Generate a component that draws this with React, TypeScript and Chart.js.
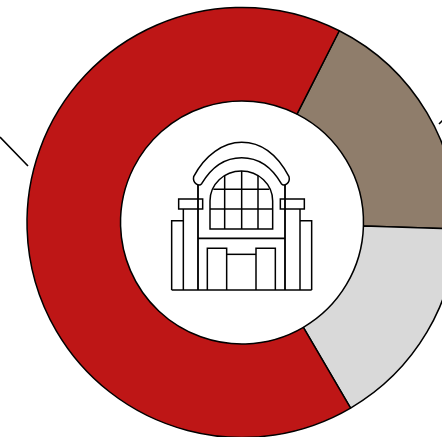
import React, { useEffect, useRef } from "react";
import { Chart, registerables } from "chart.js";

Chart.register(...registerables);

const categories = ["Brown", "Gray", "Red"];
const shares = [18, 16.1, 65.9];
const sliceColors = ["#8f7d6b", "#d9d9d9", "#be1616"];
const startAngle = 26.9;

const iconPlugin = {
  id: "centerIcon",
  afterDraw(chart: any) {
    const c = chart.ctx;
    c.save();
    c.strokeStyle = "#000";
    c.lineCap = "butt";
    // leader lines
    c.lineWidth = 1.6;
    c.beginPath();
    c.moveTo(0, 137);
    c.lineTo(28, 166);
    c.moveTo(439, 124);
    c.lineTo(443, 120);
    c.stroke();
    // icon, in its own drawing units (1 unit = 1/3 px)
    c.translate(160, 135);
    c.scale(1 / 3, 1 / 3);
    c.lineWidth = 4.5;
    const seg = (p: number[]) => {
      c.beginPath();
      c.moveTo(p[0], p[1]);
      for (let i = 2; i < p.length; i += 2) c.lineTo(p[i], p[i + 1]);
      c.stroke();
    };
    seg([35, 465, 455, 465]);
    seg([35, 465, 35, 257, 70, 257]);
    seg([455, 465, 455, 257, 420, 257]);
    seg([70, 465, 70, 222]);
    seg([420, 465, 420, 222]);
    c.strokeRect(56, 192, 72, 30);
    c.strokeRect(361, 192, 72, 30);
    c.lineWidth = 5.5;
    seg([114, 150, 114, 465]);
    seg([375, 150, 375, 465]);
    seg([114, 310, 375, 310]);
    c.lineWidth = 4.5;
    seg([142, 465, 142, 340, 200, 340, 200, 465]);
    seg([288, 465, 288, 340, 346, 340, 346, 465]);
    seg([200, 358, 288, 358]);
    // window
    c.beginPath();
    c.moveTo(150, 282);
    c.lineTo(150, 198);
    c.ellipse(244, 198, 94, 90, 0, Math.PI, 2 * Math.PI);
    c.lineTo(338, 282);
    c.closePath();
    c.stroke();
    seg([194, 122, 194, 282]);
    seg([245, 108, 245, 282]);
    seg([294, 122, 294, 282]);
    seg([160, 163, 328, 163]);
    seg([150, 222, 338, 222]);
    // arch band
    c.beginPath();
    c.moveTo(125, 146);
    c.bezierCurveTo(155, 95, 195, 68, 245, 68);
    c.bezierCurveTo(295, 68, 335, 95, 364, 146);
    c.bezierCurveTo(372, 155, 392, 145, 387, 125);
    c.bezierCurveTo(350, 55, 300, 22, 245, 22);
    c.bezierCurveTo(190, 22, 135, 60, 101, 125);
    c.bezierCurveTo(97, 145, 117, 155, 125, 146);
    c.closePath();
    c.stroke();
    c.restore();
  },
};

export default function App() {
  const ref = useRef<HTMLCanvasElement>(null);
  useEffect(() => {
    document.body.style.margin = "0";
    document.body.style.overflow = "hidden";
    document.documentElement.style.overflow = "hidden";
    const chart = new Chart(ref.current!, {
      type: "doughnut",
      data: {
        labels: categories,
        datasets: [
          {
            data: shares,
            backgroundColor: sliceColors,
            borderColor: "#000",
            borderWidth: 1.5,
            borderAlign: "center",
          },
        ],
      },
      options: {
        responsive: false,
        animation: false,
        rotation: startAngle,
        radius: 215,
        cutout: 125.3,
        layout: { padding: 0 },
        plugins: { legend: { display: false }, tooltip: { enabled: false } },
      },
      plugins: [iconPlugin],
    });
    return () => chart.destroy();
  }, []);
  return (
    <canvas
      ref={ref}
      width={484}
      height={445}
      style={{ display: "block", position: "absolute", left: 0, top: 0 }}
    />
  );
}
